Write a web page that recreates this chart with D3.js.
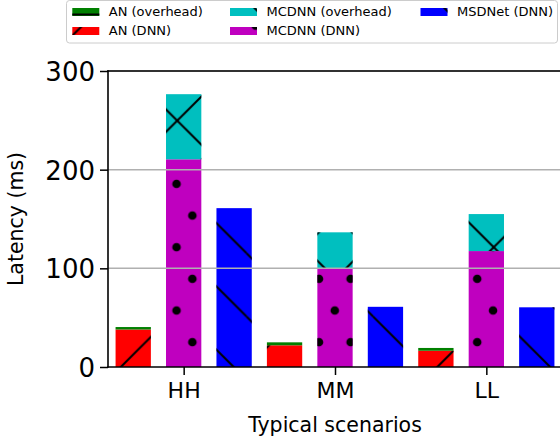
<!DOCTYPE html>
<html>
<head>
<meta charset="utf-8">
<script src="https://cdn.jsdelivr.net/npm/d3@7"></script>
<style>
  body { margin: 0; background: #fff; }
  svg { display: block; font-family: "DejaVu Sans", sans-serif; }
</style>
</head>
<body>
<svg id="chart" width="560" height="442"></svg>
<script>
// values (ms)
const categories = ["HH", "MM", "LL"];
const anDnn = [38, 22, 16.5];
const anOverhead = [2.5, 3, 2.8];
const mcdnnDnn = [210.5, 100, 117.5];
const mcdnnOverhead = [66, 36.5, 37.5];
const msdnetDnn = [161, 61, 60.5];
const yTicks = [0, 100, 200, 300];

const svg = d3.select("#chart");
const margin = {top: 71, left: 108, bottom: 367, right: 562};

const x = d3.scaleLinear().domain([-0.5, 2.5]).range([margin.left, margin.right]);
const y = d3.scaleLinear().domain([0, 300]).range([margin.bottom, margin.top]);
const barW = 0.2333;
const offset = 1 / 3;

// hatch patterns, anchored to the page like matplotlib does
const P = 63.3;
const defs = svg.append("defs");
function linePattern(id, ox, oy, lines) {
  const p = defs.append("pattern").attr("id", id)
    .attr("patternUnits", "userSpaceOnUse")
    .attr("x", ox).attr("y", oy).attr("width", P).attr("height", P);
  lines.forEach(l => p.append("line")
    .attr("x1", l[0]).attr("y1", l[1]).attr("x2", l[2]).attr("y2", l[3])
    .attr("stroke", "#000").attr("stroke-width", 2));
}
// "\"  x - y = -6.7 (mod P)
linePattern("hBack", -6.7, 0, [[0, 0, P, P], [-P, 0, 0, P], [0, -P, P, 0], [P, 0, 2 * P, P], [0, P, P, 2 * P]]);
// "/"  x + y = 44.7 (mod P)
linePattern("hFwd", 44.7, 0, [[0, P, P, 0], [-P, P, P, -P], [0, 2 * P, 2 * P, 0]]);
// "x"
linePattern("hCross", 19, 25.7, [[0, 0, P, P], [-P, 0, 0, P], [P, 0, 2 * P, P], [0, P, P, 0], [-P, P, P, -P], [0, 2 * P, 2 * P, 0]]);
// "-"
linePattern("hDash", 0, 14.5, [[-1, 0, P + 1, 0], [-1, P, P + 1, P]]);
// "."
const dots = defs.append("pattern").attr("id", "hDot")
  .attr("patternUnits", "userSpaceOnUse")
  .attr("x", 18.3).attr("y", 57.3).attr("width", P / 2).attr("height", P);
[[0, 0], [P / 2, 0], [0, P], [P / 2, P], [P / 4, P / 2]].forEach(d =>
  dots.append("circle").attr("cx", d[0]).attr("cy", d[1]).attr("r", 4.3).attr("fill", "#000"));

const series = [
  {name: "AN (DNN)", color: "#ff0000", hatch: "hFwd", dx: -offset, base: categories.map(() => 0), vals: anDnn},
  {name: "AN (overhead)", color: "#008000", hatch: "hDash", dx: -offset, base: anDnn, vals: anOverhead},
  {name: "MCDNN (DNN)", color: "#bf00bf", hatch: "hDot", dx: 0, base: categories.map(() => 0), vals: mcdnnDnn},
  {name: "MCDNN (overhead)", color: "#00bfbf", hatch: "hCross", dx: 0, base: mcdnnDnn, vals: mcdnnOverhead},
  {name: "MSDNet (DNN)", color: "#0000ff", hatch: "hBack", dx: offset, base: categories.map(() => 0), vals: msdnetDnn}
];

const bars = svg.append("g");
series.forEach(s => {
  const g = bars.append("g");
  const rows = categories.map((c, i) => ({i: i, y0: s.base[i], y1: s.base[i] + s.vals[i]}));
  [s.color, "url(#" + s.hatch + ")"].forEach(fill => {
    g.selectAll(null).data(rows).enter().append("rect")
      .attr("x", d => x(d.i + s.dx - barW / 2))
      .attr("width", x(barW) - x(0))
      .attr("y", d => y(d.y1))
      .attr("height", d => y(d.y0) - y(d.y1))
      .attr("fill", fill);
  });
});

// grid on top of bars
svg.append("g").selectAll("line").data(yTicks.slice(1)).enter().append("line")
  .attr("x1", margin.left).attr("x2", 560)
  .attr("y1", d => y(d)).attr("y2", d => y(d))
  .attr("stroke", "#b0b0b0").attr("stroke-width", 1.5);

// axes
const yAxis = svg.append("g").attr("transform", `translate(${margin.left},0)`)
  .call(d3.axisLeft(y).tickValues(yTicks).tickSize(8).tickPadding(5));
yAxis.select(".domain").remove();
yAxis.selectAll("line").attr("stroke", "#000").attr("stroke-width", 1.5);
yAxis.selectAll("text").attr("font-size", 26).attr("font-family", "DejaVu Sans")
  .attr("fill", "#000").attr("dy", "0.37em");

const xAxis = svg.append("g").attr("transform", `translate(0,${margin.bottom})`)
  .call(d3.axisBottom(x).tickValues([0, 1, 2]).tickFormat(i => categories[i]).tickSize(8).tickPadding(7));
xAxis.select(".domain").remove();
xAxis.selectAll("line").attr("stroke", "#000").attr("stroke-width", 1.5);
xAxis.selectAll("text").attr("font-size", 22).attr("font-family", "DejaVu Sans")
  .attr("fill", "#000").attr("dy", "0.71em");

// spines
const spine = [[margin.left, margin.top, 560, margin.top], [margin.left, margin.bottom, 560, margin.bottom],
  [margin.left, margin.top, margin.left, margin.bottom]];
svg.append("g").selectAll("line").data(spine).enter().append("line")
  .attr("x1", d => d[0]).attr("y1", d => d[1]).attr("x2", d => d[2]).attr("y2", d => d[3])
  .attr("stroke", "#000").attr("stroke-width", 1.6).attr("stroke-linecap", "square");

svg.append("text").attr("x", 335).attr("y", 431.5).attr("text-anchor", "middle")
  .attr("font-size", 20.5).text("Typical scenarios");
svg.append("text").attr("transform", "translate(23,219) rotate(-90)").attr("text-anchor", "middle")
  .attr("font-size", 20.5).text("Latency (ms)");

// legend
const legend = svg.append("g");
legend.append("rect").attr("x", 66.5).attr("y", 0.5).attr("width", 491).attr("height", 42.5)
  .attr("rx", 3).attr("fill", "#fff").attr("fill-opacity", 0.8).attr("stroke", "#cccccc");
const legendItems = [
  {s: series[1], x: 72.3, y: 8}, {s: series[0], x: 72.3, y: 27},
  {s: series[3], x: 230, y: 8}, {s: series[2], x: 230, y: 27},
  {s: series[4], x: 420.5, y: 8}
];
legendItems.forEach(it => {
  [it.s.color, "url(#" + it.s.hatch + ")"].forEach(fill =>
    legend.append("rect").attr("x", it.x).attr("y", it.y).attr("width", 27).attr("height", 8).attr("fill", fill));
  legend.append("text").attr("x", it.x + 36.5).attr("y", it.y + 8).attr("font-size", 13).text(it.s.name);
});
</script>
</body>
</html>
